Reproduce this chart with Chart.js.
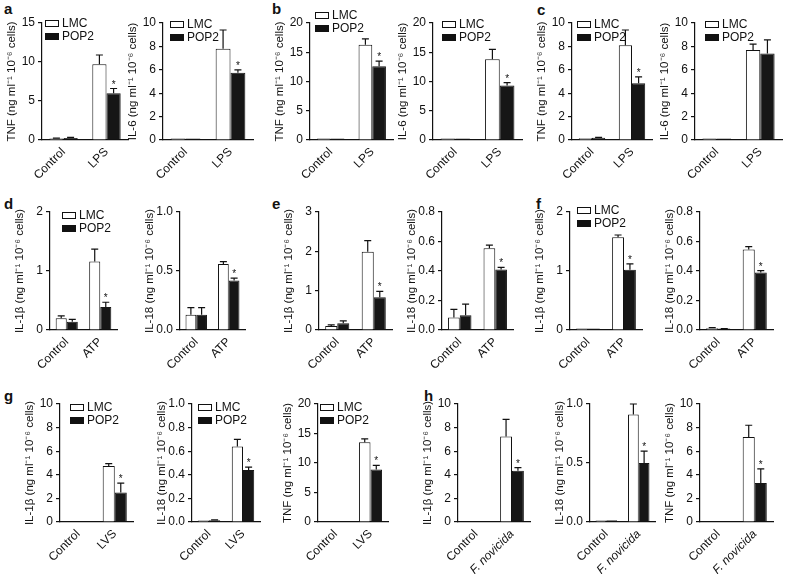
<!DOCTYPE html>
<html><head><meta charset="utf-8">
<script src="https://cdn.jsdelivr.net/npm/chart.js@4.4.1/dist/chart.umd.min.js"></script>
<style>
body{margin:0;background:#fff;width:788px;height:574px;position:relative;overflow:hidden;font-family:"Liberation Sans",Arial,sans-serif}
.box{position:absolute}
.lbl{position:absolute;font-weight:bold;font-size:15px;line-height:15px;color:#111}
</style></head><body>
<script>
// categories
const lpsCats = ['Control', 'LPS'];
const atpCats = ['Control', 'ATP'];
const lvsCats = ['Control', 'LVS'];
const fnCats = ['Control', 'F. novicida'];
const italicCats = ['F. novicida'];

// tick labels
const t0to15 = ['0', '5', '10', '15'];
const t0to20 = ['0', '5', '10', '15', '20'];
const t0to10 = ['0', '2', '4', '6', '8', '10'];
const t0to2 = ['0', '1', '2'];
const t0to3 = ['0', '1', '2', '3'];
const t0to1half = ['0.0', '0.5', '1.0'];
const t0to08 = ['0.0', '0.2', '0.4', '0.6', '0.8'];
const t0to1 = ['0.0', '0.2', '0.4', '0.6', '0.8', '1.0'];

// a
const aTnfLmc = [0.2, 9.7], aTnfLmcErr = [0.05, 1.2], aTnfPop = [0.25, 6.0], aTnfPopErr = [0.08, 0.6];
const aIl6Lmc = [0.1, 7.8], aIl6LmcErr = [0, 1.6], aIl6Pop = [0.1, 5.75], aIl6PopErr = [0, 0.25];
// b
const bTnfLmc = [0.1, 16.3], bTnfLmcErr = [0, 1.0], bTnfPop = [0.05, 12.6], bTnfPopErr = [0, 0.9];
const bIl6Lmc = [0.1, 13.8], bIl6LmcErr = [0, 1.7], bIl6Pop = [0.1, 9.3], bIl6PopErr = [0, 0.5];
// c
const cTnfLmc = [0.15, 8.1], cTnfLmcErr = [0, 1.3], cTnfPop = [0.2, 4.85], cTnfPopErr = [0.03, 0.55];
const cIl6Lmc = [0.12, 7.7], cIl6LmcErr = [0, 0.5], cIl6Pop = [0.12, 7.4], cIl6PopErr = [0, 1.15];
// d
const dIl1Lmc = [0.2, 1.16], dIl1LmcErr = [0.04, 0.21], dIl1Pop = [0.14, 0.39], dIl1PopErr = [0.04, 0.08];
const dIl18Lmc = [0.13, 0.56], dIl18LmcErr = [0.06, 0.02], dIl18Pop = [0.13, 0.42], dIl18PopErr = [0.06, 0.02];
// e
const eIl1Lmc = [0.1, 1.99], eIl1LmcErr = [0.03, 0.28], eIl1Pop = [0.17, 0.83], eIl1PopErr = [0.06, 0.15];
const eIl18Lmc = [0.085, 0.555], eIl18LmcErr = [0.055, 0.02], eIl18Pop = [0.1, 0.41], eIl18PopErr = [0.075, 0.015];
// f
const fIl1Lmc = [0.01, 1.57], fIl1LmcErr = [0, 0.04], fIl1Pop = [0.01, 1.02], fIl1PopErr = [0, 0.1];
const fIl18Lmc = [0.012, 0.545], fIl18LmcErr = [0.004, 0.02], fIl18Pop = [0.008, 0.39], fIl18PopErr = [0.002, 0.012];
// g
const gIl1Lmc = [0, 4.75], gIl1LmcErr = [0, 0.2], gIl1Pop = [0, 2.5], gIl1PopErr = [0, 0.8];
const gIl18Lmc = [0.008, 0.64], gIl18LmcErr = [0, 0.06], gIl18Pop = [0.015, 0.44], gIl18PopErr = [0.003, 0.025];
const gTnfLmc = [0, 13.5], gTnfLmcErr = [0, 0.6], gTnfPop = [0, 8.9], gTnfPopErr = [0, 0.7];
// h
const hIl1Lmc = [0, 7.25], hIl1LmcErr = [0, 1.45], hIl1Pop = [0, 4.35], hIl1PopErr = [0, 0.25];
const hIl18Lmc = [0.008, 0.91], hIl18LmcErr = [0, 0.09], hIl18Pop = [0.015, 0.5], hIl18PopErr = [0, 0.1];
const hTnfLmc = [0, 7.2], hTnfLmcErr = [0, 1.0], hTnfPop = [0, 3.3], hTnfPopErr = [0, 1.2];

const unit = ' (ng ml\u207B\u00B9 10\u207B\u2076 cells)';
const FONT = '"Liberation Sans", Arial, sans-serif';

// box = [plotLeft, plotRight, plotTop, plotBottom]; legend = offset of first key from plot corner
const panels = [
  {cats: lpsCats, lmc: aTnfLmc, le: aTnfLmcErr, pop: aTnfPop, pe: aTnfPopErr, ticks: t0to15, title: 'TNF', star: true, box: [42, 128, 23, 140], legend: [3, -3]},
  {cats: lpsCats, lmc: aIl6Lmc, le: aIl6LmcErr, pop: aIl6Pop, pe: aIl6PopErr, ticks: t0to10, title: 'IL-6', star: true, box: [163, 253, 23, 140], legend: [7, -2]},
  {cats: lpsCats, lmc: bTnfLmc, le: bTnfLmcErr, pop: bTnfPop, pe: bTnfPopErr, ticks: t0to20, title: 'TNF', star: true, box: [310, 393, 23, 140], legend: [5, -11]},
  {cats: lpsCats, lmc: bIl6Lmc, le: bIl6LmcErr, pop: bIl6Pop, pe: bIl6PopErr, ticks: t0to20, title: 'IL-6', star: true, box: [433, 522, 23, 140], legend: [9, -2]},
  {cats: lpsCats, lmc: cTnfLmc, le: cTnfLmcErr, pop: cTnfPop, pe: cTnfPopErr, ticks: t0to10, title: 'TNF', star: true, box: [572, 652, 23, 140], legend: [5, -2]},
  {cats: lpsCats, lmc: cIl6Lmc, le: cIl6LmcErr, pop: cIl6Pop, pe: cIl6PopErr, ticks: t0to10, title: 'IL-6', star: false, box: [695, 782, 23, 140], legend: [10, -2]},

  {cats: atpCats, lmc: dIl1Lmc, le: dIl1LmcErr, pop: dIl1Pop, pe: dIl1PopErr, ticks: t0to2, title: 'IL-1\u03B2', star: true, box: [50, 117, 212, 330], legend: [12, 0]},
  {cats: atpCats, lmc: dIl18Lmc, le: dIl18LmcErr, pop: dIl18Pop, pe: dIl18PopErr, ticks: t0to1half, title: 'IL-18', star: true, box: [180, 245, 212, 330], legend: null},
  {cats: atpCats, lmc: eIl1Lmc, le: eIl1LmcErr, pop: eIl1Pop, pe: eIl1PopErr, ticks: t0to3, title: 'IL-1\u03B2', star: true, box: [319, 392, 212, 330], legend: null},
  {cats: atpCats, lmc: eIl18Lmc, le: eIl18LmcErr, pop: eIl18Pop, pe: eIl18PopErr, ticks: t0to08, title: 'IL-18', star: true, box: [442, 513, 212, 330], legend: null},
  {cats: atpCats, lmc: fIl1Lmc, le: fIl1LmcErr, pop: fIl1Pop, pe: fIl1PopErr, ticks: t0to2, title: 'IL-1\u03B2', star: true, box: [570, 642, 212, 330], legend: [7, -5]},
  {cats: atpCats, lmc: fIl18Lmc, le: fIl18LmcErr, pop: fIl18Pop, pe: fIl18PopErr, ticks: t0to08, title: 'IL-18', star: true, box: [700, 773, 212, 330], legend: null},

  {cats: lvsCats, lmc: gIl1Lmc, le: gIl1LmcErr, pop: gIl1Pop, pe: gIl1PopErr, ticks: t0to10, title: 'IL-1\u03B2', star: true, box: [60, 133, 404, 522], legend: [10, 0]},
  {cats: lvsCats, lmc: gIl18Lmc, le: gIl18LmcErr, pop: gIl18Pop, pe: gIl18PopErr, ticks: t0to1, title: 'IL-18', star: true, box: [192, 260, 404, 522], legend: [6, 0]},
  {cats: lvsCats, lmc: gTnfLmc, le: gTnfLmcErr, pop: gTnfPop, pe: gTnfPopErr, ticks: t0to20, title: 'TNF', star: true, box: [318, 388, 404, 522], legend: [2, 0]},
  {cats: fnCats, lmc: hIl1Lmc, le: hIl1LmcErr, pop: hIl1Pop, pe: hIl1PopErr, ticks: t0to10, title: 'IL-1\u03B2', star: true, box: [458, 530, 404, 522], legend: null},
  {cats: fnCats, lmc: hIl18Lmc, le: hIl18LmcErr, pop: hIl18Pop, pe: hIl18PopErr, ticks: t0to1half, title: 'IL-18', star: true, box: [590, 655, 404, 522], legend: null},
  {cats: fnCats, lmc: hTnfLmc, le: hTnfLmcErr, pop: hTnfPop, pe: hTnfPopErr, ticks: t0to10, title: 'TNF', star: true, box: [700, 773, 404, 522], legend: null}
];

const letters = [['a', 4, 1], ['b', 272, 1], ['c', 537, 2], ['d', 4, 196], ['e', 272, 196], ['f', 536, 196], ['g', 4, 388], ['h', 424, 388]];
letters.forEach(([t, x, y]) => {
  const d = document.createElement('div');
  d.className = 'lbl'; d.textContent = t;
  d.style.left = x + 'px'; d.style.top = y + 'px';
  document.body.appendChild(d);
});

// error bars with cap, plus asterisk over POP2
const errorBars = {
  id: 'errorBars',
  afterDatasetsDraw(chart) {
    const ctx = chart.ctx, y = chart.scales.y;
    ctx.save();
    ctx.strokeStyle = '#111'; ctx.lineWidth = 1.2;
    chart.data.datasets.forEach((ds, di) => {
      chart.getDatasetMeta(di).data.forEach((bar, i) => {
        const v = ds.data[i] || 0, e = ds.err[i];
        let top = y.getPixelForValue(v);
        if (e) {
          const base = top;
          top = y.getPixelForValue(v + e);
          ctx.beginPath();
          ctx.moveTo(bar.x, base); ctx.lineTo(bar.x, top);
          ctx.moveTo(bar.x - 3.5, top); ctx.lineTo(bar.x + 3.5, top);
          ctx.stroke();
        }
        if (ds.star && i === 1) {
          ctx.fillStyle = '#111';
          ctx.font = '10px ' + FONT;
          ctx.textAlign = 'center'; ctx.textBaseline = 'alphabetic';
          ctx.fillText('*', bar.x, top - 1);
        }
      });
    });
    ctx.restore();
  }
};

const keyBoxes = {
  id: 'keyBoxes',
  afterDraw(chart, args, opts) {
    if (!opts.at) return;
    const ctx = chart.ctx, a = chart.chartArea;
    const x = a.left + opts.at[0], y = a.top + opts.at[1];
    ctx.save();
    ctx.font = '12px ' + FONT; ctx.textBaseline = 'middle'; ctx.textAlign = 'left';
    ['LMC', 'POP2'].forEach((name, k) => {
      const yy = y + k * 13;
      ctx.fillStyle = k ? '#111' : '#fff';
      ctx.fillRect(x, yy, 14, 7);
      ctx.strokeStyle = '#111'; ctx.lineWidth = 1;
      ctx.strokeRect(x + 0.5, yy + 0.5, 13, 6);
      ctx.fillStyle = '#111';
      ctx.fillText(name, x + 17, yy + 4);
    });
    ctx.restore();
  }
};

const YW = 40, TOPPAD = 15, XH = 62, RPAD = 6;

panels.forEach(p => {
  const [L, R, T, B] = p.box;
  const w = (R - L) + YW + RPAD, h = (B - T) + TOPPAD + XH;
  const div = document.createElement('div');
  div.className = 'box';
  div.style.left = (L - YW) + 'px'; div.style.top = (T - TOPPAD) + 'px';
  const cv = document.createElement('canvas');
  cv.width = w; cv.height = h;
  div.appendChild(cv);
  document.body.appendChild(div);
  const tickVals = p.ticks.map(Number);

  new Chart(cv, {
    type: 'bar',
    data: {
      labels: p.cats,
      datasets: [
        {label: 'LMC', data: p.lmc.map(v => v || null), err: p.le, star: false, backgroundColor: '#fff', borderColor: '#111',
         borderWidth: 1, borderSkipped: 'bottom', minBarLength: 1.5},
        {label: 'POP2', data: p.pop.map(v => v || null), err: p.pe, star: p.star, backgroundColor: '#161616', borderColor: '#161616',
         borderWidth: 1, borderSkipped: 'bottom', minBarLength: 1.5}
      ]
    },
    options: {
      responsive: false, animation: false, devicePixelRatio: 1,
      layout: {padding: {left: 0, right: RPAD, top: TOPPAD, bottom: 0}},
      categoryPercentage: 0.66, barPercentage: 1.0,
      plugins: {legend: {display: false}, tooltip: {enabled: false}, keyBoxes: {at: p.legend}},
      scales: {
        x: {
          grid: {display: true, drawOnChartArea: false, drawTicks: false},
          border: {color: '#111', width: 1.2},
          ticks: {
            color: '#111', autoSkip: false, minRotation: 45, maxRotation: 45, padding: 5,
            font: c => ({family: FONT, size: 12, style: italicCats.includes(p.cats[c.index]) ? 'italic' : 'normal'})
          },
          afterFit: s => { s.height = XH; }
        },
        y: {
          min: 0, max: tickVals[tickVals.length - 1],
          grid: {drawOnChartArea: false, drawTicks: true, tickLength: 4, color: '#111', lineWidth: 1.2},
          border: {color: '#111', width: 1.2},
          afterBuildTicks: s => { s.ticks = tickVals.map(v => ({value: v})); },
          ticks: {color: '#111', padding: 3, font: {family: FONT, size: 12}, callback: (v, i) => p.ticks[i]},
          title: {display: true, text: p.title + unit, color: '#111', padding: {top: 3, bottom: 0}, font: {family: FONT, size: 11.5}},
          afterFit: s => { s.width = YW; }
        }
      }
    },
    plugins: [errorBars, keyBoxes]
  });
});
</script>
</body></html>
